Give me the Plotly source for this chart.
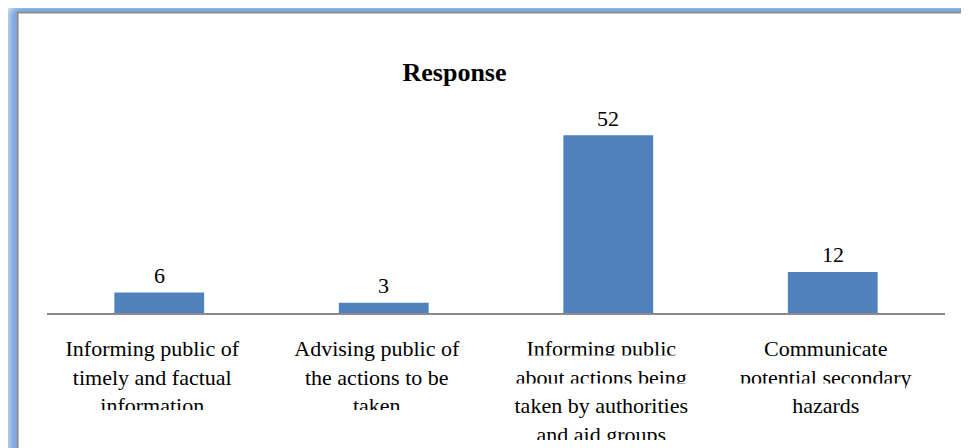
import plotly.graph_objects as go

# ---- data ----
categories = [
    "Informing public of<br>timely and factual<br>information",
    "Advising public of<br>the actions to be<br>taken",
    "Informing public<br>about actions being<br>taken by authorities<br>and aid groups",
    "Communicate<br>potential secondary<br>hazards",
]
values = [6, 3, 52, 12]
chart_title = "Response"

# ---- geometry (reference-window pixels; page body has an 8px margin) ----
OFF = 8
W, H = 969 - OFF, 448 - OFF
RL, RR, RT, RB = 47, 945, 100, 313      # plot area edges in window pixels
YMAX = (RB - RT) / 3.42

def xp(px):
    return (px - RL) / (RR - RL)

def yp(py):
    return (RB - py) / (RB - RT)

def hexmix(c1, c2, t):
    a = [int(c1[i:i + 2], 16) for i in (1, 3, 5)]
    b = [int(c2[i:i + 2], 16) for i in (1, 3, 5)]
    return "#" + "".join(f"{round(a[i] + (b[i] - a[i]) * t):02x}" for i in range(3))

def rounded_path(x0, y0, x1, y1, r):
    return (f"M {xp(x0)},{yp(y1)} L {xp(x0)},{yp(y0 + r)} "
            f"Q {xp(x0)},{yp(y0)} {xp(x0 + r)},{yp(y0)} "
            f"L {xp(x1)},{yp(y0)} L {xp(x1)},{yp(y1)} Z")

def white_box(x0, y0, x1, y1):
    return dict(type="rect", xref="paper", yref="paper", layer="above",
                x0=xp(x0), x1=xp(x1), y0=yp(y1), y1=yp(y0),
                fillcolor="#ffffff", line=dict(width=0))

shapes = []
n = 9
for k in range(n):
    t = k / (n - 1)
    col = hexmix("#f2f6fc", "#80a8de", min(1.0, t * 1.25))
    dx = k * 2.0
    dy = k * 1.4
    shapes.append(dict(type="path", xref="paper", yref="paper", layer="below",
                       path=rounded_path(dx, dy, 1000, 480, max(2, 22 - k * 2)),
                       fillcolor=col, line=dict(width=0)))
shapes.append(dict(type="rect", xref="paper", yref="paper", layer="below",
                   x0=xp(16.8), x1=xp(1000), y0=yp(480), y1=yp(11.8),
                   fillcolor="#8c8c8c", line=dict(width=0)))
shapes.append(dict(type="rect", xref="paper", yref="paper", layer="below",
                   x0=xp(18.6), x1=xp(1000), y0=yp(480), y1=yp(13.6),
                   fillcolor="#ffffff", line=dict(width=0)))

# clipped label lines, as in the original chart
shapes += [
    white_box(40, 410, 490, 460),
    white_box(490, 355.5, 700, 362),
    white_box(490, 383.5, 905, 390),
    white_box(490, 440, 710, 460),
]

fig = go.Figure()
fig.add_trace(go.Bar(
    x=categories, y=values,
    marker=dict(color="#4f81bd", line=dict(width=0)),
    hoverinfo="skip",
))

annotations = [
    dict(x=c, y=v, xref="x", yref="y", text=str(v), showarrow=False,
         yanchor="middle", yshift=17,
         font=dict(family="Liberation Serif", size=22, color="#000000"))
    for c, v in zip(categories, values)
]

fig.update_layout(
    width=W, height=H,
    margin=dict(l=RL - OFF, r=W - (RR - OFF), t=RT - OFF, b=H - (RB - OFF), pad=0),
    paper_bgcolor="#ffffff",
    plot_bgcolor="rgba(0,0,0,0)",
    bargap=0.6,
    showlegend=False,
    shapes=shapes,
    annotations=annotations,
    title=dict(text=f"<b>{chart_title}</b>", xref="container", yref="container",
               x=(454.5 - OFF) / W, y=1 - (72 - OFF) / H,
               xanchor="center", yanchor="middle",
               font=dict(family="Liberation Serif", size=26, color="#000000")),
    xaxis=dict(showline=True, linecolor="#8a8a8a", linewidth=1.5,
               showgrid=False, ticks="", tickangle=0, automargin=False,
               tickfont=dict(family="Liberation Serif", size=22, color="#000000"),
               ticklabelstandoff=15, ticklabelshift=-7),
    yaxis=dict(range=[0, YMAX], visible=False, showgrid=False, zeroline=False,
               automargin=False),
    font=dict(family="Liberation Serif"),
)

fig.write_html("out.html")
